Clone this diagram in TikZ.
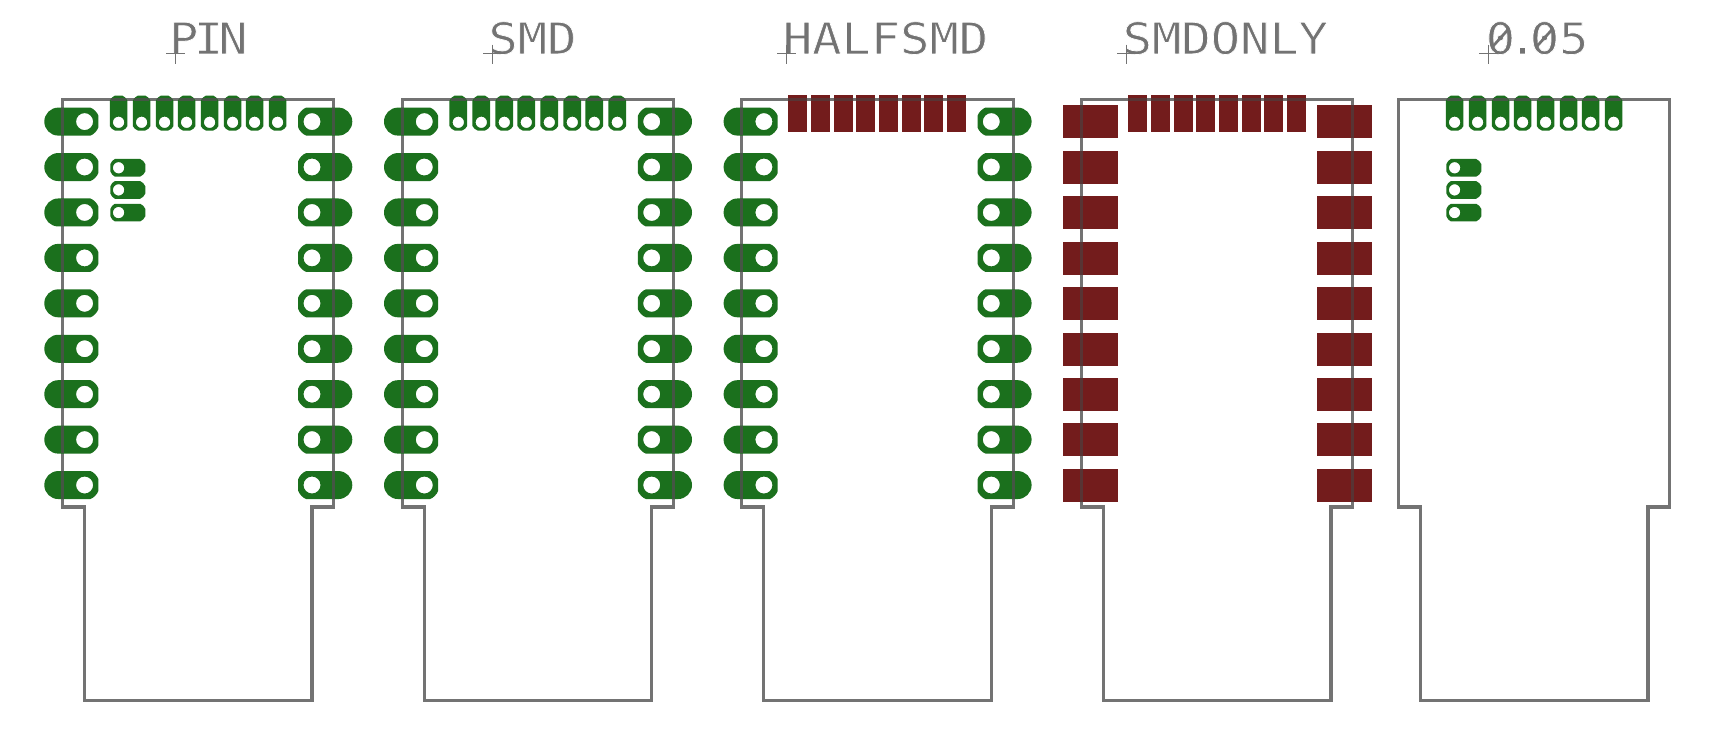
\documentclass[tikz,border=0pt]{standalone}
\usepackage{fontspec}
\newfontfamily\pcbfont[FakeStretch=1.12]{DejaVu Sans Mono}
\definecolor{padgreen}{RGB}{27,112,29}
\definecolor{smdred}{RGB}{115,28,28}
\definecolor{outlinegray}{RGB}{115,115,115}
\definecolor{overgreen}{RGB}{68,86,68}
\definecolor{overred}{RGB}{88,52,52}
\tikzset{
  padfill/.style={fill=padgreen,even odd rule},
  smdfill/.style={fill=smdred},
  outline/.style={draw=outlinegray,line width=3.1bp,line join=miter},
  overg/.style={draw=overgreen,line width=3.1bp},
  overr/.style={draw=overred,line width=3.1bp},
  slashmark/.style={draw=outlinegray,line width=2.7bp},
  crossmark/.style={draw=outlinegray,line width=1bp},
  title/.style={inner sep=0,outer sep=0,anchor=base west,text=outlinegray,
    font=\pcbfont\fontsize{43.5bp}{50bp}\selectfont}
}
\newcommand{\thintext}[1]{\special{pdf:code q 2 Tr 0.7 w 1 1 1 RG}#1\special{pdf:code Q}}
% long through-hole pad: hole at (hx,hy), long end towards -dir
\newcommand{\LongPad}[3]{%
  \begin{scope}[shift={(#1,#2)},xscale=#3]
  \fill[padfill] (5.8,-14) .. controls (9,-13) and (12.8,-9) .. (13.8,-5.8) -- (13.8,5.8)
     .. controls (12.8,9) and (9,13) .. (5.8,14) -- (-26.3,14)
     arc[start angle=90,delta angle=180,radius=14] -- cycle (0,0) circle[radius=8.5];
  \end{scope}}
% small pad: hole at (hx,hy), long end turned by angle
\newcommand{\SmallPad}[3]{%
  \begin{scope}[shift={(#1,#2)},rotate=#3]
  \fill[padfill] (3.7,8.2) .. controls (5.8,7.6) and (8.1,5.6) .. (8.85,3.7) -- (8.85,-21.55)
     .. controls (8.1,-23.6) and (5.8,-26) .. (3.7,-26.7) -- (-3.7,-26.7)
     .. controls (-5.8,-26) and (-8.1,-23.6) .. (-8.85,-21.55) -- (-8.85,3.7)
     .. controls (-8.1,5.6) and (-5.8,7.6) .. (-3.7,8.2) -- cycle (0,0) circle[radius=5.7];
  \end{scope}}
\newcommand{\Outline}[1]{%
  \draw[outline,shift={(#1,0)}] (62.3,99) -- (333.5,99) -- (333.5,506.4) -- (311.7,506.4)
    -- (311.7,699.8) -- (84.3,699.8) -- (84.3,506.4) -- (62.3,506.4) -- cycle;}
\newcommand{\SidePads}[1]{%
  \foreach \r in {0,...,8}{%
    \pgfmathsetmacro{\ry}{121+45.43*\r}
    \LongPad{84.3+#1}{\ry}{1}
    \LongPad{311.7+#1}{\ry}{-1}
    \draw[overg] (62.3+#1,\ry-13.8) -- (62.3+#1,\ry+13.8);
    \draw[overg] (333.5+#1,\ry-13.8) -- (333.5+#1,\ry+13.8);
  }}
\newcommand{\SideRects}[1]{%
  \foreach \r in {0,...,8}{%
    \pgfmathsetmacro{\ry}{121.3+45.43*\r}
    \fill[smdfill] (44+#1,\ry-16.5) rectangle (99+#1,\ry+16.5);
    \fill[smdfill] (298+#1,\ry-16.5) rectangle (353+#1,\ry+16.5);
    \draw[overr] (62.3+#1,\ry-16.5) -- (62.3+#1,\ry+16.5);
    \draw[overr] (333.5+#1,\ry-16.5) -- (333.5+#1,\ry+16.5);
  }}
\newcommand{\TopPads}[1]{%
  \foreach \kx in {118.3,141.3,164.3,186.3,209.3,232.3,254.3,277.3}{%
    \pgfmathsetmacro{\hx}{\kx+#1}
    \SmallPad{\hx}{121.7}{0}
    \draw[overg] (\hx-7.8,99) -- (\hx+7.8,99);
  }}
\newcommand{\TopRects}[1]{%
  \foreach \kx in {118.3,141.3,164.3,186.3,209.3,232.3,254.3,277.3}{%
    \pgfmathsetmacro{\hx}{\kx+#1}
    \fill[smdfill] (\hx-9.5,94) rectangle (\hx+9.5,131);
    \draw[overr] (\hx-9.5,99) -- (\hx+9.5,99);
  }}
\newcommand{\ThreePads}[1]{%
  \foreach \yy in {167.2,189.3,212}{\SmallPad{118.3+#1}{\yy}{-90}}}
\begin{document}
\begin{tikzpicture}[x=1bp,y=-1bp]
\useasboundingbox (0,0) rectangle (1722,743);
\fill[white] (0,0) rectangle (1722,743);
\begin{scope}[shift={(0.3,0.6)}]
\Outline{0}\Outline{339.7}\Outline{679.3}\Outline{1019}\Outline{1336}
\SidePads{0}\TopPads{0}\ThreePads{0}
\SidePads{339.7}\TopPads{339.7}
\SidePads{679.3}\TopRects{679.3}
\SideRects{1019}\TopRects{1019}
\TopPads{1336}\ThreePads{1336}
\node[title] (tpin) at (168.8,53.3) {\thintext{P\kern-4.8bp I\kern-4.8bp N}};
\node[title] (tsmd) at (488.1,53.3) {\thintext{SMD}};
\node[title] (thalf) at (782.5,53.3) {\thintext{HALFSMD}};
\node[title] (tonly) at (1122.4,53.3) {\thintext{SMDONLY}};
\node[title] (tzero) at (1485.4,53.3) {\thintext{0\kern-7.3bp.\kern-7.3bp 05}};
\draw[slashmark] (1491.7,46.7) -- (1508.3,28.3) (1535.7,46.7) -- (1552.3,28.3);
\foreach \cx in {175.3,492.3,786.3,1126.3,1488.3}{
  \draw[crossmark] (\cx-9.5,53.3) -- (\cx+9.5,53.3) (\cx,44) -- (\cx,63.3);
}
\end{scope}
\end{tikzpicture}
\end{document}
